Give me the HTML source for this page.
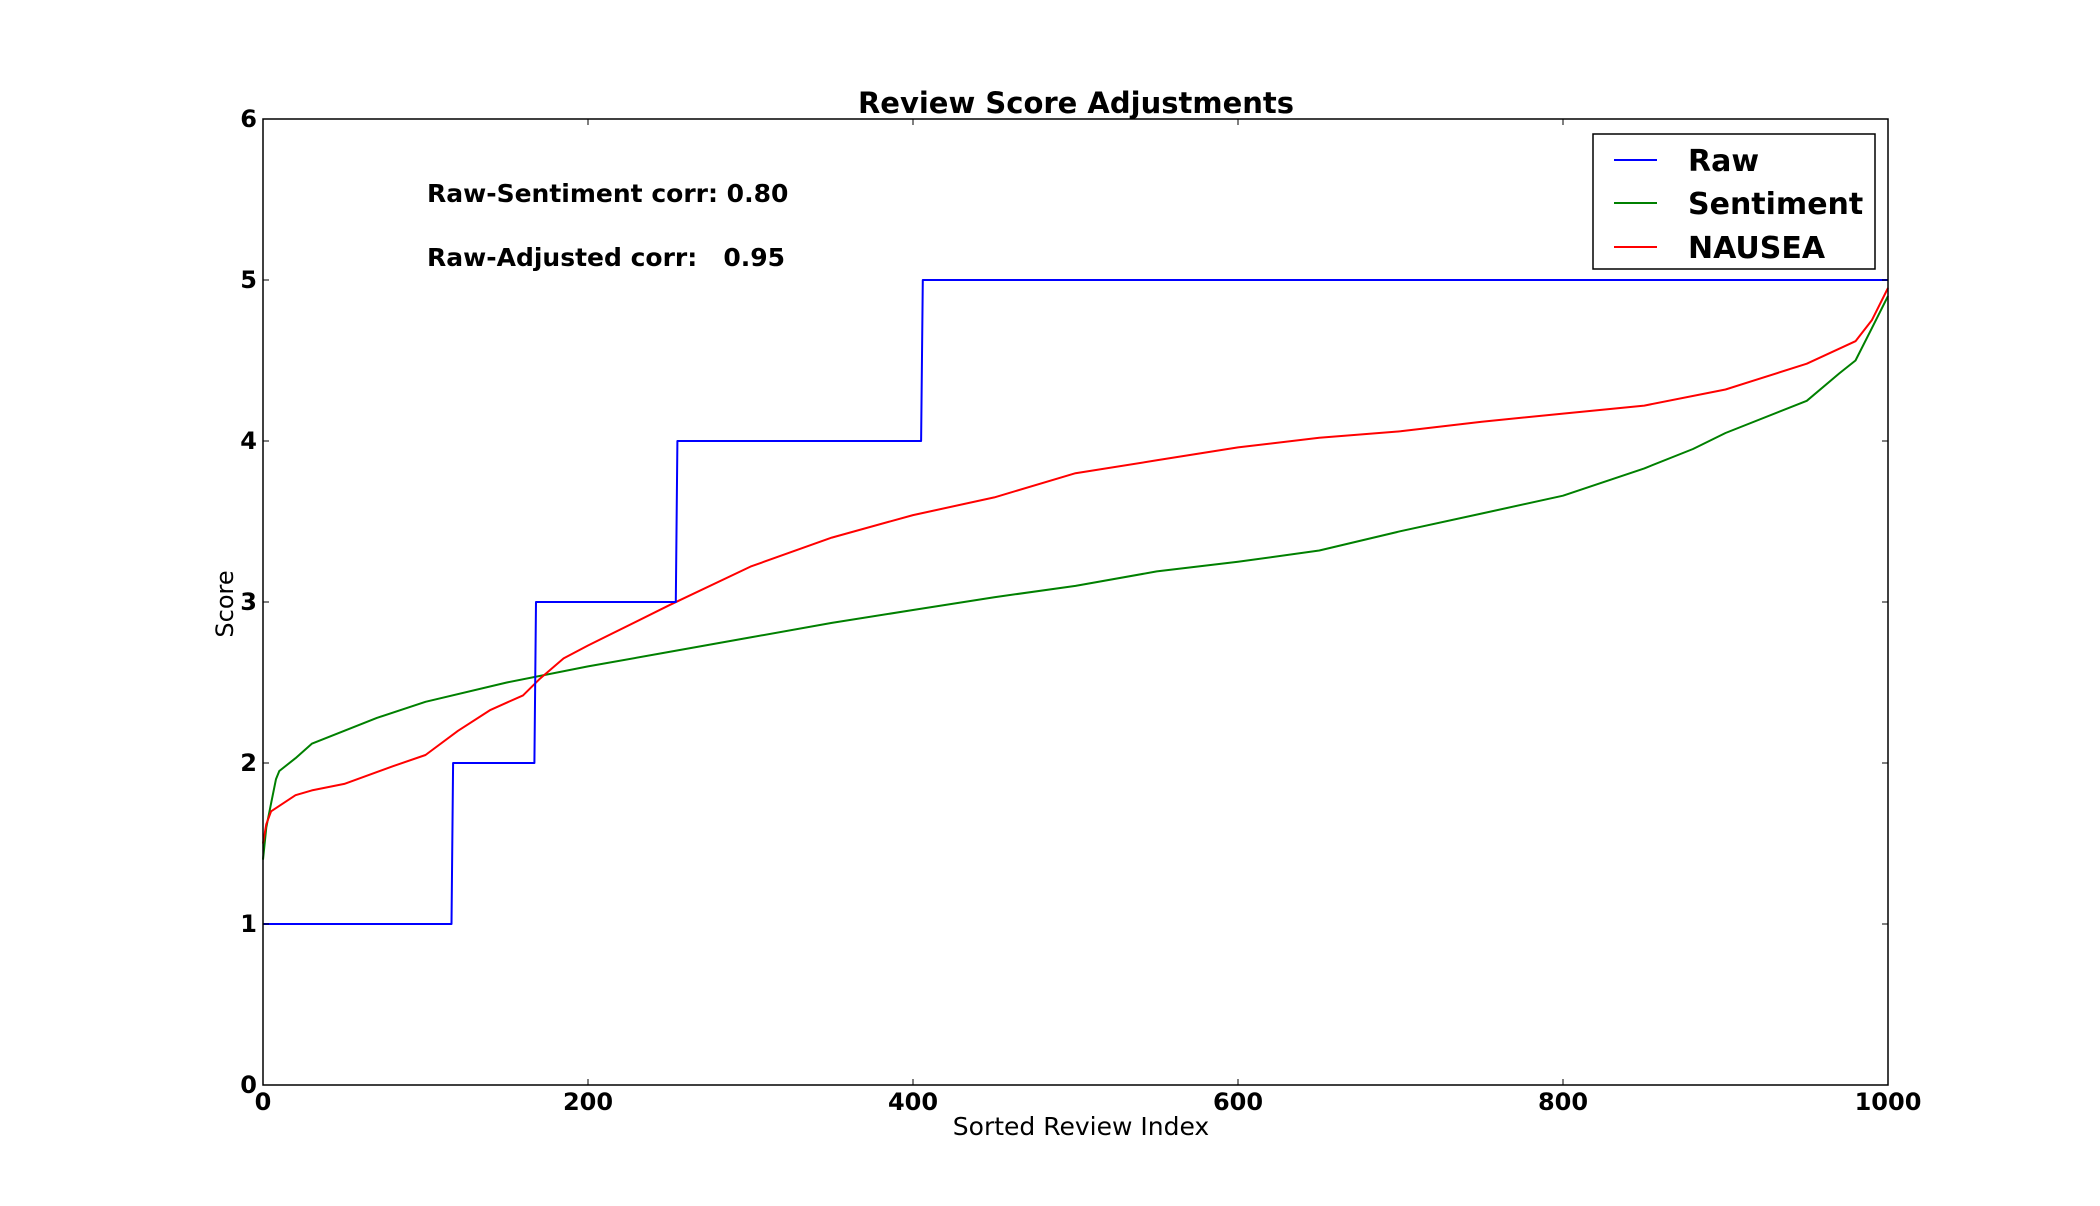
<!DOCTYPE html>
<html><head><meta charset="utf-8"><style>
html,body{margin:0;padding:0;background:#fff;}
svg{display:block;font-family:"DejaVu Sans","Liberation Sans",sans-serif;}
</style></head><body>
<svg id="chart" width="2100" height="1206" viewBox="0 0 2100 1206">
<rect x="0" y="0" width="2100" height="1206" fill="#fff"/>
<text x="1076" y="113" text-anchor="middle" font-size="29" font-weight="bold">Review Score Adjustments</text>
<g id="plot"></g>
<text x="427" y="202" font-size="25" font-weight="bold">Raw-Sentiment corr: 0.80</text>
<text x="427" y="266" font-size="25" font-weight="bold" xml:space="preserve">Raw-Adjusted corr:   0.95</text>
<text x="1081" y="1135" text-anchor="middle" font-size="25">Sorted Review Index</text>
<text x="0" y="0" transform="translate(233,604) rotate(-90)" text-anchor="middle" font-size="24">Score</text>
<g>
<rect x="1593" y="134" width="282" height="135" fill="#fff" stroke="#000" stroke-width="1.5"/>
<line x1="1614" y1="160" x2="1657" y2="160" stroke="#0000ff" stroke-width="2"/>
<text x="1688" y="171" font-size="30" font-weight="bold">Raw</text>
<line x1="1614" y1="203" x2="1657" y2="203" stroke="#008000" stroke-width="2"/>
<text x="1688" y="214" font-size="30" font-weight="bold">Sentiment</text>
<line x1="1614" y1="247" x2="1657" y2="247" stroke="#ff0000" stroke-width="2"/>
<text x="1688" y="258" font-size="30" font-weight="bold">NAUSEA</text>
</g>
</svg>
<script>
const xTicks = [0, 200, 400, 600, 800, 1000];
const yTicks = [0, 1, 2, 3, 4, 5, 6];
const rawIndex = [0, 116, 117, 167, 168, 254, 255, 405, 406, 1000];
const rawScore = [1, 1, 2, 2, 3, 3, 4, 4, 5, 5];
const sentIndex = [0, 2, 5, 8, 10, 20, 30, 50, 70, 100, 150, 200, 250, 300, 350, 400, 450, 500, 550, 600, 650, 700, 750, 800, 850, 880, 900, 950, 970, 980, 990, 1000];
const sentScore = [1.4, 1.6, 1.75, 1.9, 1.95, 2.03, 2.12, 2.2, 2.28, 2.38, 2.5, 2.6, 2.69, 2.78, 2.87, 2.95, 3.03, 3.1, 3.19, 3.25, 3.32, 3.44, 3.55, 3.66, 3.83, 3.95, 4.05, 4.25, 4.42, 4.5, 4.7, 4.9];
const nauseaIndex = [0, 2, 5, 20, 30, 50, 80, 100, 120, 140, 160, 170, 185, 200, 250, 300, 350, 400, 450, 500, 550, 600, 650, 700, 750, 800, 850, 900, 950, 980, 990, 1000];
const nauseaScore = [1.5, 1.62, 1.7, 1.8, 1.83, 1.87, 1.98, 2.05, 2.2, 2.33, 2.42, 2.52, 2.65, 2.73, 2.98, 3.22, 3.4, 3.54, 3.65, 3.8, 3.88, 3.96, 4.02, 4.06, 4.12, 4.17, 4.22, 4.32, 4.48, 4.62, 4.75, 4.95];

const L = 263, R = 1888, T = 119, B = 1085;
const xS = v => L + (v - 0) / 1000 * (R - L);
const yS = v => B - (v - 0) / 6 * (B - T);
const NS = 'http://www.w3.org/2000/svg';
const plot = document.getElementById('plot');

function mk(tag, attrs) {
  const e = document.createElementNS(NS, tag);
  for (const k in attrs) e.setAttribute(k, attrs[k]);
  return e;
}
function series(xs, ys, color, name) {
  const pts = xs.map((x, i) => xS(x).toFixed(1) + ',' + yS(ys[i]).toFixed(1)).join(' ');
  const pl = mk('polyline', {points: pts, fill: 'none', stroke: color, 'stroke-width': 2, 'stroke-linejoin': 'round'});
  
  
  plot.appendChild(pl);
}
series(sentIndex, sentScore, '#008000', 'sentiment-line');
series(nauseaIndex, nauseaScore, '#ff0000', 'nausea-line');
series(rawIndex, rawScore, '#0000ff', 'raw-line');

const frame = mk('rect', {x: L, y: T, width: R - L, height: B - T, fill: 'none', stroke: '#000', 'stroke-width': 1.5});


plot.appendChild(frame);

xTicks.forEach(v => {
  const x = xS(v);
  const t1 = mk('line', {x1: x, y1: B, x2: x, y2: B - 6, stroke: '#000', 'stroke-width': 1});
  
  
  plot.appendChild(t1);
  const t2 = mk('line', {x1: x, y1: T, x2: x, y2: T + 6, stroke: '#000', 'stroke-width': 1});
  
  
  plot.appendChild(t2);
  const tx = mk('text', {x: x, y: B + 25, 'text-anchor': 'middle', 'font-size': 24, 'font-weight': 'bold'});
  tx.textContent = v;
  
  
  plot.appendChild(tx);
});
yTicks.forEach(v => {
  const y = yS(v);
  const t1 = mk('line', {x1: L, y1: y, x2: L + 6, y2: y, stroke: '#000', 'stroke-width': 1});
  
  
  plot.appendChild(t1);
  const t2 = mk('line', {x1: R, y1: y, x2: R - 6, y2: y, stroke: '#000', 'stroke-width': 1});
  
  
  plot.appendChild(t2);
  const tx = mk('text', {x: L - 6, y: y + 8, 'text-anchor': 'end', 'font-size': 24, 'font-weight': 'bold'});
  tx.textContent = v;
  
  
  plot.appendChild(tx);
});
</script>
</body></html>
